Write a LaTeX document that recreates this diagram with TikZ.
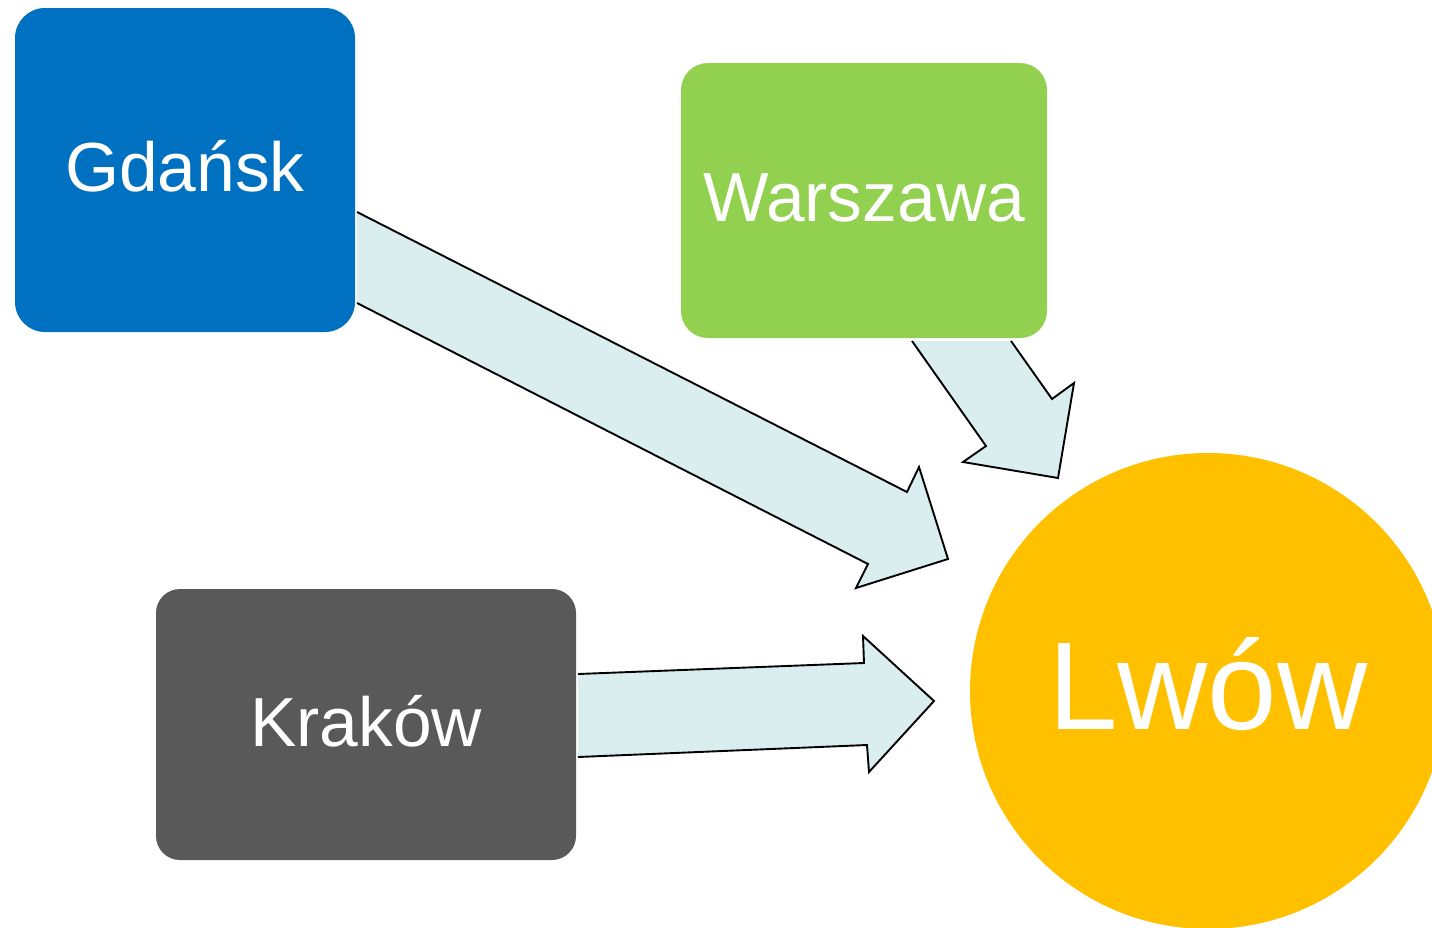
\documentclass[tikz,border=0pt]{standalone}
\usepackage{fontspec}
\setmainfont{Liberation Sans}
\definecolor{gblue}{HTML}{0070C0}
\definecolor{wgreen}{HTML}{92D050}
\definecolor{kgray}{HTML}{595959}
\definecolor{lyellow}{HTML}{FFC000}
\definecolor{arrowfill}{HTML}{DAEEF0}
\tikzset{
  citybox/.style={draw=none, text=white, inner sep=0pt, align=center},
  arrowbody/.style={fill=arrowfill, draw=none},
  arrowline/.style={draw=black, line width=1.9pt, line join=miter},
}
\begin{document}
\begin{tikzpicture}[x=1pt,y=-1pt]
\useasboundingbox (0,0) rectangle (1432,927);
\clip (0,0) rectangle (1432,927);

% Lwow circle
\node[circle, fill=lyellow, text=white, minimum size=476pt, inner sep=0pt,
      font=\fontsize{125}{125}\selectfont, text depth=15pt] (lwow) at (1208,691) {Lwów};

% Arrow from Gdansk
\coordinate (ga1) at (357,212);
\coordinate (ga2) at (907,492);
\coordinate (ga3) at (919,467);
\coordinate (ga4) at (948,559);
\coordinate (ga5) at (856,588);
\coordinate (ga6) at (868,564);
\coordinate (ga7) at (357,303);
\fill[arrowbody] (ga1) -- (ga2) -- (ga3) -- (ga4) -- (ga5) -- (ga6) -- (ga7) -- cycle;
\draw[arrowline] (ga1) -- (ga2) -- (ga3) -- (ga4) -- (ga5) -- (ga6) -- (ga7);

% Arrow from Warszawa
\coordinate (wa1) at (912,341);
\coordinate (wa2) at (986,446);
\coordinate (wa3) at (963,462);
\coordinate (wa4) at (1058,478);
\coordinate (wa5) at (1074,383);
\coordinate (wa6) at (1052,399);
\coordinate (wa7) at (1011,341);
\fill[arrowbody] (wa1) -- (wa2) -- (wa3) -- (wa4) -- (wa5) -- (wa6) -- (wa7) -- cycle;
\draw[arrowline] (wa1) -- (wa2) -- (wa3) -- (wa4) -- (wa5) -- (wa6) -- (wa7);

% Arrow from Krakow
\coordinate (ka1) at (578,674);
\coordinate (ka2) at (864,663);
\coordinate (ka3) at (863,636);
\coordinate (ka4) at (934,701);
\coordinate (ka5) at (869,772);
\coordinate (ka6) at (867,745);
\coordinate (ka7) at (578,757);
\fill[arrowbody] (ka1) -- (ka2) -- (ka3) -- (ka4) -- (ka5) -- (ka6) -- (ka7) -- cycle;
\draw[arrowline] (ka1) -- (ka2) -- (ka3) -- (ka4) -- (ka5) -- (ka6) -- (ka7);

% City boxes
\node[citybox, fill=gblue, minimum width=340pt, minimum height=324pt, rounded corners=30pt,
      font=\fontsize{69.5}{70}\selectfont, text depth=9pt] (gdansk) at (185,170) {Gdańsk};
\node[citybox, fill=wgreen, minimum width=366pt, minimum height=275pt, rounded corners=27pt,
      font=\fontsize{69.5}{70}\selectfont, text depth=6pt] (warszawa) at (864,200.5) {Warszawa};
\node[citybox, fill=kgray, minimum width=420pt, minimum height=271pt, rounded corners=24pt,
      font=\fontsize{69.5}{70}\selectfont, text depth=8pt] (krakow) at (366,724.5) {Kraków};
\end{tikzpicture}
\end{document}
